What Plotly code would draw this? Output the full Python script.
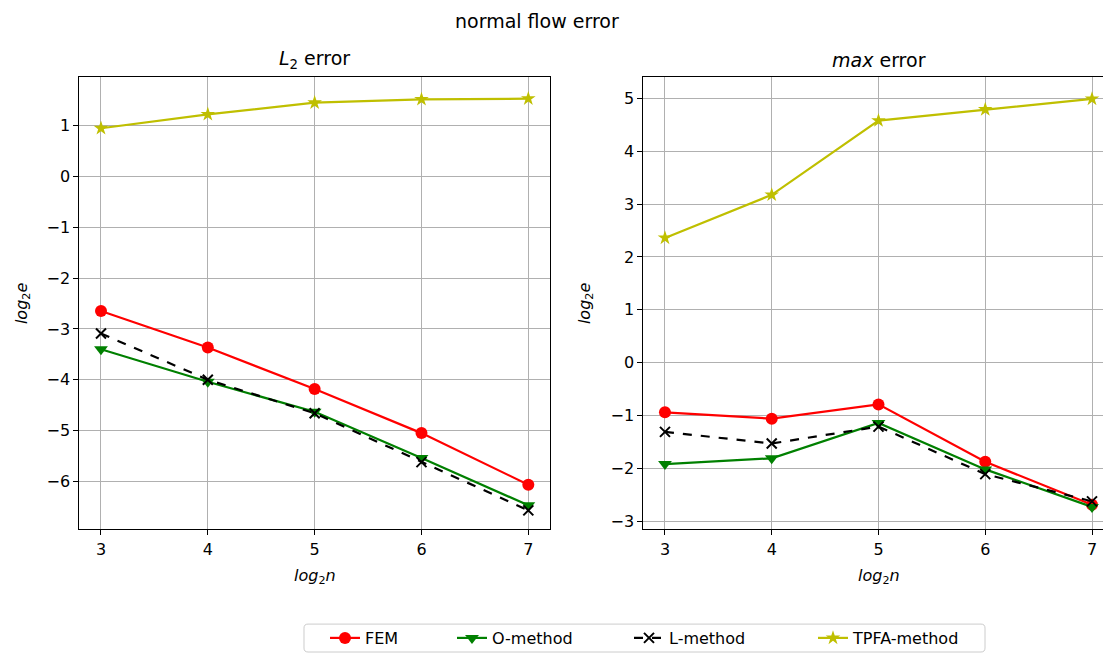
import plotly.graph_objects as go

W, H = 1103, 655

log2n = [3, 4, 5, 6, 7]
x_ticks = [3, 4, 5, 6, 7]

# L2 error (left)
l2_fem = [-2.647, -3.366, -4.183, -5.05, -6.065]
l2_o = [-3.40, -4.04, -4.63, -5.54, -6.47]
l2_l = [-3.09, -4.00, -4.66, -5.62, -6.57]
l2_tpfa = [0.948, 1.222, 1.45, 1.516, 1.53]

# max error (right)
mx_fem = [-0.94, -1.06, -0.79, -1.875, -2.69]
mx_o = [-1.92, -1.81, -1.14, -2.02, -2.73]
mx_l = [-1.31, -1.53, -1.21, -2.11, -2.625]
mx_tpfa = [2.36, 3.175, 4.58, 4.79, 4.99]

series_names = ["FEM", "O-method", "L-method", "TPFA-method"]
left_y_ticks = [-6, -5, -4, -3, -2, -1, 0, 1]
right_y_ticks = [-3, -2, -1, 0, 1, 2, 3, 4, 5]

styles = {
    "FEM": dict(color="#ff0000", symbol="circle", dash="solid", size=12),
    "O-method": dict(color="#008000", symbol="triangle-down", dash="solid", size=12),
    "L-method": dict(color="#000000", symbol="x-thin", dash="dash", size=10),
    "TPFA-method": dict(color="#bfbf00", symbol="star", dash="solid", size=11),
}
legend_ids = ["legend", "legend2", "legend3", "legend4"]
legend_text_px = [365, 492, 669, 853]  # where each legend label starts

FONT = "DejaVu Sans"
fig = go.Figure()

left_data = [l2_fem, l2_o, l2_l, l2_tpfa]
right_data = [mx_fem, mx_o, mx_l, mx_tpfa]

for axi, data in enumerate([left_data, right_data]):
    for i, (name, ys) in enumerate(zip(series_names, data)):
        st = styles[name]
        marker = dict(color=st["color"], symbol=st["symbol"], size=st["size"])
        if st["symbol"] == "x-thin":
            marker["line"] = dict(color=st["color"], width=2)
        else:
            marker["line"] = dict(width=0)
        fig.add_trace(go.Scatter(
            x=log2n, y=ys, mode="lines+markers", name=name,
            line=dict(color=st["color"], width=2.2, dash=st["dash"]),
            marker=marker,
            showlegend=(axi == 0),
            legend=legend_ids[i],
            xaxis="x" if axi == 0 else "x2",
            yaxis="y" if axi == 0 else "y2",
        ))

def px_x(p):
    return p / W

def px_y(p):
    return 1 - p / H

axis_common = dict(
    showgrid=True, gridcolor="#b0b0b0", gridwidth=1,
    zeroline=False, showline=True, linecolor="black", linewidth=1,
    ticks="outside", ticklen=5, tickwidth=1, tickcolor="black",
    tickfont=dict(family=FONT, size=16, color="black"),
)

ydom = [px_y(531), px_y(77.7)]
layout = dict(
    width=W, height=H,
    margin=dict(l=0, r=0, t=0, b=0),
    paper_bgcolor="white", plot_bgcolor="white",
    font=dict(family=FONT, color="black"),
    xaxis=dict(domain=[px_x(79.3), px_x(550)], range=[2.797, 7.203],
               tickvals=x_ticks, anchor="y", mirror=True, **axis_common),
    yaxis=dict(domain=ydom, range=[-6.944, 1.947], tickvals=left_y_ticks,
               anchor="x", mirror=True, **axis_common),
    xaxis2=dict(domain=[px_x(643.3), 1.0], range=[2.797, 7.103],
                tickvals=x_ticks, anchor="y2", mirror=True, **axis_common),
    yaxis2=dict(domain=ydom, range=[-3.155, 5.396], tickvals=right_y_ticks,
                anchor="x2", mirror=False, **axis_common),
    showlegend=True,
)
for lid, tx in zip(legend_ids, legend_text_px):
    layout[lid] = dict(orientation="h", x=px_x(tx - 40), xanchor="left",
                       y=px_y(640), yanchor="middle",
                       borderwidth=0, bgcolor="rgba(0,0,0,0)",
                       font=dict(family=FONT, size=16, color="black"))
fig.update_layout(**layout)

# legend frame (rounded rectangle)
x0, x1, y0, y1, r = 304, 985, 626, 654, 4
path = (f"M {x0+r},{y0} L {x1-r},{y0} Q {x1},{y0} {x1},{y0+r} "
        f"L {x1},{y1-r} Q {x1},{y1} {x1-r},{y1} L {x0+r},{y1} "
        f"Q {x0},{y1} {x0},{y1-r} L {x0},{y0+r} Q {x0},{y0} {x0+r},{y0} Z")
# convert pixel path to paper coords
def conv_path(p):
    out = []
    for tok in p.split(" "):
        if "," in tok:
            a, b = tok.split(",")
            out.append(f"{px_x(float(a)):.5f},{px_y(float(b)):.5f}")
        else:
            out.append(tok)
    return " ".join(out)
fig.add_shape(type="path", path=conv_path(path), xref="paper", yref="paper",
              line=dict(color="#cccccc", width=1), fillcolor="rgba(255,255,255,0.8)",
              layer="below")

annotations = [
    dict(text="normal flow error", x=px_x(537), y=px_y(21), size=19),
    dict(text="<i>L</i><sub>2</sub> error", x=px_x(314.6), y=px_y(60), size=19),
    dict(text="<i>max</i> error", x=px_x(878.5), y=px_y(60), size=19),
    dict(text="<i>log</i><sub>2</sub><i>n</i>", x=px_x(314.6), y=px_y(578), size=16),
    dict(text="<i>log</i><sub>2</sub><i>n</i>", x=px_x(878.5), y=px_y(578), size=16),
]
for a in annotations:
    fig.add_annotation(text=a["text"], x=a["x"], y=a["y"], xref="paper", yref="paper",
                       xanchor="center", yanchor="middle", showarrow=False,
                       font=dict(family=FONT, size=a["size"], color="black"))
for xp in [22, 585]:
    fig.add_annotation(text="<i>log</i><sub>2</sub><i>e</i>", x=px_x(xp), y=px_y(304),
                       xref="paper", yref="paper", xanchor="center", yanchor="middle",
                       showarrow=False, textangle=-90,
                       font=dict(family=FONT, size=16, color="black"))

fig.write_html("out.html")
